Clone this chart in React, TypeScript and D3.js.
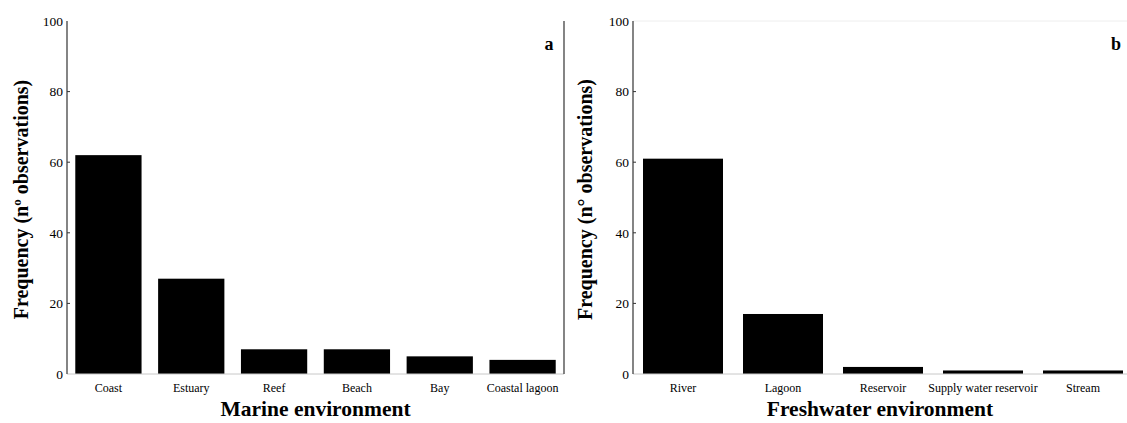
import React from "react";
import * as d3 from "d3";

const marineCategories = ["Coast", "Estuary", "Reef", "Beach", "Bay", "Coastal lagoon"];
const marineValues = [62, 27, 7, 7, 5, 4];
const freshCategories = ["River", "Lagoon", "Reservoir", "Supply water reservoir", "Stream"];
const freshValues = [61, 17, 2, 1, 1];
const yTicks = [0, 20, 40, 60, 80, 100];

const FONT = "'Liberation Serif', 'Times New Roman', serif";

type PanelProps = {
  cats: string[];
  vals: number[];
  x0: number;
  x1: number;
  title: string;
  yTitle: string;
  yTitleX: number;
  letter: string;
  letterX: number;
  rightBorder: boolean;
};

function Panel(p: PanelProps) {
  const top = 21;
  const bottom = 374;
  const y = d3.scaleLinear().domain([0, 100]).range([bottom, top]);
  const x = d3.scaleBand<string>().domain(p.cats).range([p.x0, p.x1]).paddingInner(0.2).paddingOuter(0.1);
  return (
    <g fontFamily={FONT}>
      {!p.rightBorder && <line x1={p.x0} x2={1127} y1={top} y2={top} stroke="#eee" strokeWidth={1} />}
      {p.vals.map((v, i) => (
        <rect key={i} x={x(p.cats[i])} y={y(v)} width={x.bandwidth()} height={y(0) - y(v)} fill="#000" />
      ))}
      <line x1={p.x0} x2={p.rightBorder ? p.x1 : 1127} y1={bottom} y2={bottom} stroke="#c8c8c8" strokeWidth={1} />
      <line x1={p.x0} x2={p.x0} y1={top} y2={bottom} stroke="#333" strokeWidth={1.2} />
      {p.rightBorder && <line x1={p.x1} x2={p.x1} y1={top} y2={bottom} stroke="#333" strokeWidth={1.2} />}
      {yTicks.map((t) => (
        <g key={t}>
          {t > 0 && t < 100 && <line x1={p.x0} x2={p.x0 + 3} y1={y(t)} y2={y(t)} stroke="#333" />}
          <text x={p.x0 - 4} y={y(t)} dy="0.35em" textAnchor="end" fontSize={13.5} fill="#000">{t}</text>
        </g>
      ))}
      {p.cats.map((c) => (
        <text key={c} x={(x(c) as number) + x.bandwidth() / 2} y={392} textAnchor="middle" fontSize={12} fill="#000">{c}</text>
      ))}
      <text x={(p.x0 + Math.min(p.x1, 1127)) / 2} y={416} textAnchor="middle" fontSize={21.5} fontWeight="bold" fill="#000">{p.title}</text>
      <text transform={`translate(${p.yTitleX},${(top + bottom) / 2 + 2}) rotate(-90)`} textAnchor="middle" fontSize={20} fontWeight="bold" dy="0.35em" fill="#000">{p.yTitle}</text>
      <text x={p.letterX} y={50} textAnchor="middle" fontSize={18} fontWeight="bold" fill="#000">{p.letter}</text>
    </g>
  );
}

export default function App() {
  return (
    <div style={{ position: "absolute", left: 0, top: 0 }}>
      <svg width={1127} height={423} style={{ display: "block", background: "#fff" }}>
        <Panel cats={marineCategories} vals={marineValues} x0={67} x1={564} title="Marine environment"
          yTitle="Frequency (nº observations)" yTitleX={21} letter="a" letterX={549} rightBorder={true} />
        <Panel cats={freshCategories} vals={freshValues} x0={633} x1={1133} title="Freshwater environment"
          yTitle="Frequency (n° observations)" yTitleX={585} letter="b" letterX={1116} rightBorder={false} />
      </svg>
    </div>
  );
}
